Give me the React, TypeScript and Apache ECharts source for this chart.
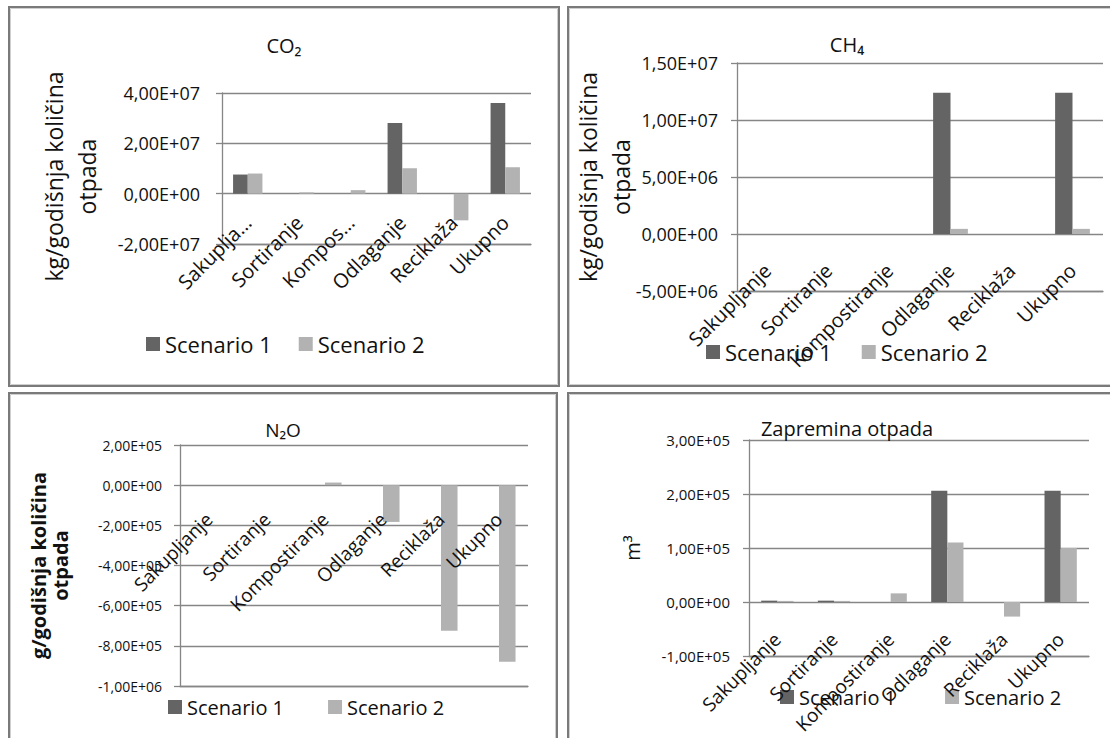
import React, { useEffect, useRef } from 'react';
import * as echarts from 'echarts';

// ---------- DATA ----------
const categories = ['Sakupljanje', 'Sortiranje', 'Kompostiranje', 'Odlaganje', 'Reciklaža', 'Ukupno'];
const co2Categories = ['Sakuplja…', 'Sortiranje', 'Kompos…', 'Odlaganje', 'Reciklaža', 'Ukupno'];
const seriesNames = ['Scenario 1', 'Scenario 2'];

const co2Scenario1 = [7.6e6, 0, 0, 2.81e7, 0, 3.6e7];
const co2Scenario2 = [8.0e6, 5e5, 1.4e6, 1.01e7, -1.06e7, 1.05e7];
const co2Ticks = [-2e7, 0, 2e7, 4e7];

const ch4Scenario1 = [0, 0, 0, 1.24e7, 0, 1.24e7];
const ch4Scenario2 = [0, 0, 0, 4.5e5, 0, 4.5e5];
const ch4Ticks = [-5e6, 0, 5e6, 1e7, 1.5e7];

const n2oScenario1 = [0, 0, 0, 0, 0, 0];
const n2oScenario2 = [0, 0, 1.3e4, -1.83e5, -7.25e5, -8.79e5];
const n2oTicks = [-1e6, -8e5, -6e5, -4e5, -2e5, 0, 2e5];

const volScenario1 = [2.5e3, 2.5e3, 0, 2.06e5, 0, 2.06e5];
const volScenario2 = [2e3, 2e3, 1.6e4, 1.1e5, -2.7e4, 1.0e5];
const volTicks = [-1e5, 0, 1e5, 2e5, 3e5];

// ---------- STYLE ----------
const FONT = "'Open Sans', 'DejaVu Sans', sans-serif";
const GRID_COLOR = '#868686';
const BORDER_COLOR = '#7a7a7a';
const BORDER_INNER = '#cfcfcf';
const S1_COLOR = '#646464';
const S2_COLOR = '#b2b2b2';
const TEXT_COLOR = '#111';

function fmtE(v: number): string {
  if (Math.abs(v) < 1e-9) return '0,00E+00';
  const sign = v < 0 ? '-' : '';
  const a = Math.abs(v);
  let e = Math.floor(Math.log10(a) + 1e-9);
  let ms = (a / Math.pow(10, e)).toFixed(2);
  if (ms === '10.00') {
    e += 1;
    ms = '1.00';
  }
  const es = (e >= 0 ? '+' : '-') + String(Math.abs(e)).padStart(2, '0');
  return sign + ms.replace('.', ',') + 'E' + es;
}

interface PanelCfg {
  pos: { left: number; top: number; width: number; height: number };
  title: { text: string; size: number; top: number };
  grid: { left: number; top: number; width: number; height: number };
  ticks: number[];
  tickSize: number;
  tickMargin: number;
  yName: string;
  yNameSize: number;
  yNameLineHeight: number;
  yNameGap: number;
  yNamePadding: number[];
  yNameWeight?: string;
  xLabels: string[];
  xLabelSize: number;
  xLabelMargin: number;
  legend: { left: number; top: number; size: number; gap: number };
  s1: number[];
  s2: number[];
}

const panels: PanelCfg[] = [
  {
    pos: { left: 8, top: 6, width: 552, height: 381 },
    title: { text: 'CO₂', size: 20, top: 24 },
    grid: { left: 214, top: 87, width: 309, height: 151 },
    ticks: co2Ticks,
    tickSize: 18,
    tickMargin: 22,
    yName: 'kg/godišnja količina\notpada',
    yNameSize: 23,
    yNameLineHeight: 33,
    yNameGap: 119,
    yNamePadding: [0, 16, 0, 0],
    xLabels: co2Categories,
    xLabelSize: 20,
    xLabelMargin: -25,
    legend: { left: 133, top: 322, size: 22, gap: 27 },
    s1: co2Scenario1,
    s2: co2Scenario2,
  },
  {
    pos: { left: 567, top: 6, width: 560, height: 381 },
    title: { text: 'CH₄', size: 20, top: 23 },
    grid: { left: 170, top: 57, width: 366, height: 228 },
    ticks: ch4Ticks,
    tickSize: 18,
    tickMargin: 19,
    yName: 'kg/godišnja količina\notpada',
    yNameSize: 23,
    yNameLineHeight: 33,
    yNameGap: 100,
    yNamePadding: [0, 0, 0, 0],
    xLabels: categories,
    xLabelSize: 20,
    xLabelMargin: -24,
    legend: { left: 134, top: 330, size: 22, gap: 30 },
    s1: ch4Scenario1,
    s2: ch4Scenario2,
  },
  {
    pos: { left: 8, top: 392, width: 550, height: 370 },
    title: { text: 'N₂O', size: 19, top: 23 },
    grid: { left: 172, top: 53, width: 348, height: 241 },
    ticks: n2oTicks,
    tickSize: 14,
    tickMargin: 18,
    yName: 'g/godišnja količina\notpada',
    yNameSize: 20,
    yNameLineHeight: 22,
    yNameGap: 109,
    yNamePadding: [0, 0, 0, 0],
    yNameWeight: 'bold',
    xLabels: categories,
    xLabelSize: 19,
    xLabelMargin: -170,
    legend: { left: 155, top: 300, size: 20, gap: 44 },
    s1: n2oScenario1,
    s2: n2oScenario2,
  },
  {
    pos: { left: 567, top: 392, width: 560, height: 370 },
    title: { text: 'Zapremina otpada', size: 20, top: 21 },
    grid: { left: 182, top: 48, width: 340, height: 216 },
    ticks: volTicks,
    tickSize: 15,
    tickMargin: 19,
    yName: 'm³',
    yNameSize: 20,
    yNameLineHeight: 24,
    yNameGap: 105,
    yNamePadding: [0, 0, 0, 0],
    xLabels: categories,
    xLabelSize: 19,
    xLabelMargin: -20,
    legend: { left: 208, top: 290, size: 20, gap: 49 },
    s1: volScenario1,
    s2: volScenario2,
  },
];

function buildOption(p: PanelCfg): any {
  const t = p.ticks;
  const interval = t[1] - t[0];
  return {
    animation: false,
    backgroundColor: '#ffffff',
    textStyle: { fontFamily: FONT, color: TEXT_COLOR },
    title: {
      text: p.title.text,
      left: 'center',
      top: p.title.top,
      textStyle: { fontSize: p.title.size, fontWeight: 'normal', color: TEXT_COLOR, fontFamily: FONT },
    },
    legend: {
      data: seriesNames,
      left: p.legend.left,
      top: p.legend.top,
      icon: 'rect',
      itemWidth: 14,
      itemHeight: 14,
      itemGap: p.legend.gap,
      selectedMode: false,
      textStyle: { fontSize: p.legend.size, color: TEXT_COLOR, fontFamily: FONT },
    },
    grid: { ...p.grid, containLabel: false, outerBoundsMode: 'none' },
    xAxis: {
      type: 'category',
      data: p.xLabels,
      z: 10,
      axisLine: { show: true, onZero: false, lineStyle: { color: GRID_COLOR, width: 1.3 } },
      axisTick: { show: false },
      splitLine: { show: false },
      axisLabel: {
        rotate: 45,
        interval: 0,
        margin: p.xLabelMargin,
        fontSize: p.xLabelSize,
        color: TEXT_COLOR,
        fontFamily: FONT,
        hideOverlap: false,
      },
    },
    yAxis: {
      type: 'value',
      min: t[0],
      max: t[t.length - 1],
      interval,
      axisLine: { show: true, lineStyle: { color: GRID_COLOR, width: 1.3 } },
      axisTick: { show: true, length: 6, lineStyle: { color: GRID_COLOR, width: 1.3 } },
      splitLine: { show: true, lineStyle: { color: GRID_COLOR, width: 1.3 } },
      axisLabel: {
        formatter: fmtE,
        fontSize: p.tickSize,
        margin: p.tickMargin,
        color: TEXT_COLOR,
        fontFamily: FONT,
      },
      name: p.yName,
      nameLocation: 'middle',
      nameRotate: 90,
      nameGap: p.yNameGap,
      nameMoveOverlap: false,
      nameTextStyle: {
        fontSize: p.yNameSize,
        lineHeight: p.yNameLineHeight,
        color: TEXT_COLOR,
        fontFamily: FONT,
        fontWeight: p.yNameWeight || 'normal',
        padding: p.yNamePadding,
      },
    },
    series: [
      {
        type: 'bar',
        name: seriesNames[0],
        data: p.s1,
        itemStyle: { color: S1_COLOR },
        barGap: '0%',
        barCategoryGap: '43%',
      },
      {
        type: 'bar',
        name: seriesNames[1],
        data: p.s2,
        itemStyle: { color: S2_COLOR },
        barGap: '0%',
        barCategoryGap: '43%',
      },
    ],
    graphic: [
      {
        type: 'rect',
        shape: { x: 1, y: 1, width: p.pos.width - 2, height: p.pos.height - 2 },
        style: { fill: 'none', stroke: BORDER_COLOR, lineWidth: 2 },
        silent: true,
        z: 100,
      },
      {
        type: 'rect',
        shape: { x: 2.5, y: 2.5, width: p.pos.width - 5, height: p.pos.height - 5 },
        style: { fill: 'none', stroke: BORDER_INNER, lineWidth: 1 },
        silent: true,
        z: 100,
      },
    ],
  };
}

function Panel({ cfg }: { cfg: PanelCfg }) {
  const ref = useRef<HTMLDivElement>(null);
  useEffect(() => {
    if (!ref.current) return;
    const chart = echarts.init(ref.current, undefined, { renderer: 'svg' });
    chart.setOption(buildOption(cfg));
    return () => chart.dispose();
  }, [cfg]);
  return (
    <div
      ref={ref}
      style={{
        position: 'absolute',
        left: cfg.pos.left,
        top: cfg.pos.top,
        width: cfg.pos.width,
        height: cfg.pos.height,
      }}
    />
  );
}

export default function App() {
  return (
    <div
      style={{
        position: 'fixed',
        left: 0,
        top: 0,
        width: 1110,
        height: 738,
        overflow: 'hidden',
        background: '#ffffff',
      }}
    >
      {panels.map((p, i) => (
        <Panel key={i} cfg={p} />
      ))}
    </div>
  );
}
